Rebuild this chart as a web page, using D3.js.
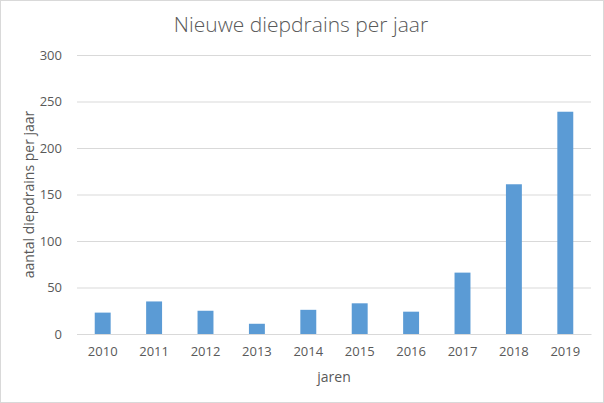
<!DOCTYPE html>
<html><head><meta charset="utf-8">
<script src="https://cdn.jsdelivr.net/npm/d3@7"></script>
<style>body{margin:0;background:#fff;}svg{display:block;}</style>
</head><body>
<svg id="c" width="604" height="403"></svg>
<script>
const categories = ["2010","2011","2012","2013","2014","2015","2016","2017","2018","2019"];
const values = [23, 35, 25, 11, 26, 33, 24, 66, 161, 239];
const yTicks = [0, 50, 100, 150, 200, 250, 300];
const title = "Nieuwe diepdrains per jaar";
const xTitle = "jaren";
const yTitle = "aantal diepdrains per jaar";

const W = 604, H = 403;
const m = {left: 77, right: 13, top: 55, bottom: 69};
const svg = d3.select("#c");
const font = "'Open Sans', sans-serif";
const txt = "#595959";

svg.append("rect").attr("x",0.5).attr("y",0.5).attr("width",W-1).attr("height",H-1)
  .attr("fill","#fff").attr("stroke","#d9d9d9");

const x = d3.scaleBand().domain(categories).range([m.left, W-m.right]).paddingInner(0.69).paddingOuter(0.345);
const y = d3.scaleLinear().domain([0,300]).range([H-m.bottom, m.top]);

const yAxis = svg.append("g").attr("transform",`translate(${m.left},0)`)
  .call(d3.axisLeft(y).tickValues(yTicks).tickSize(-(W-m.left-m.right)).tickPadding(15));
yAxis.select(".domain").remove();
yAxis.selectAll(".tick line").attr("stroke","#d9d9d9");
yAxis.selectAll(".tick text").attr("fill",txt).style("font-family",font).style("font-size","13px");

svg.append("g").selectAll("rect").data(values).join("rect")
  .attr("x",(d,i)=>x(categories[i])).attr("width",x.bandwidth())
  .attr("y",d=>y(d)).attr("height",d=>y(0)-y(d)).attr("fill","#5b9bd5");

const xAxis = svg.append("g").attr("transform",`translate(0,${y(0)})`)
  .call(d3.axisBottom(x).tickSize(0).tickPadding(13));
xAxis.select(".domain").attr("stroke","#d9d9d9");
xAxis.selectAll(".tick text").attr("fill",txt).style("font-family",font).style("font-size","13px");

svg.append("text").attr("x",301).attr("y",32).attr("text-anchor","middle")
  .attr("fill",txt).style("font-family",font).style("font-size","21px").style("font-weight","300").text(title);
svg.append("text").attr("x",(m.left+W-m.right)/2).attr("y",382).attr("text-anchor","middle")
  .attr("fill",txt).style("font-family",font).style("font-size","14px").text(xTitle);
svg.append("text").attr("transform",`translate(34,${(m.top+H-m.bottom)/2}) rotate(-90)`).attr("text-anchor","middle")
  .attr("fill",txt).style("font-family",font).style("font-size","14px").text(yTitle);
</script>
</body></html>
